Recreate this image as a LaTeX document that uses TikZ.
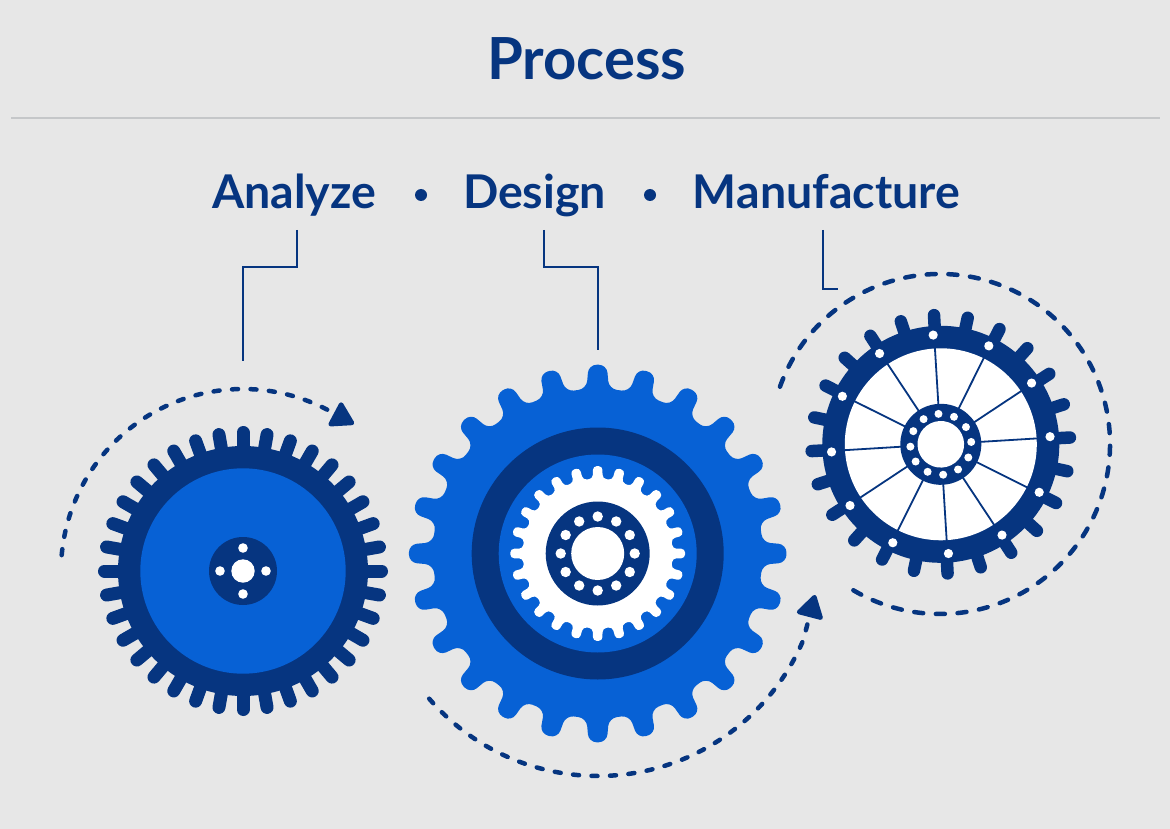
\documentclass[tikz,border=0pt]{standalone}
\usepackage{fontspec}
\setmainfont{Lato}
\usetikzlibrary{arrows.meta}
\definecolor{navy}{HTML}{063580}
\definecolor{wheelblue}{HTML}{0761D5}
\definecolor{paper}{HTML}{E7E7E7}
\definecolor{rulegray}{HTML}{C5C7C9}
\begin{document}
\begin{tikzpicture}[
        x=1pt, y=-1pt,
        title/.style={font=\fontsize{58}{62}\selectfont\bfseries, text=navy, inner sep=0pt, anchor=base},
        word/.style={font=\fontsize{46.5}{50}\selectfont\bfseries, text=navy, inner sep=0pt, anchor=base},
        bullet/.style={circle, fill=navy, inner sep=0pt, minimum size=12pt},
        leader/.style={draw=navy, line width=2pt},
        orbit/.style={draw=navy, line width=4.5pt, line cap=round, dash pattern=on 6pt off 12.5pt},
        longorbit/.style={draw=navy, line width=4.5pt, line cap=round, dash pattern=on 9pt off 12.7pt},
        tip/.style={-{Triangle[length=25pt, width=29pt, round]}}
    ]
      \useasboundingbox (0,0) rectangle (1170,829);
      \fill[paper] (0,0) rectangle (1170,829);

      % Headings
      \node[title] (process) at (586.5,80) {Process};
      \coordinate (ruleL) at (11,118);
      \coordinate (ruleR) at (1160,118);
      \draw[rulegray, line width=1.2pt] (ruleL) -- (ruleR);
      \node[word] (analyze) at (294,209) {Analyze};
      \node[bullet] (dotA) at (421,195) {};
      \node[word] (design) at (534.5,209) {Design};
      \node[bullet] (dotB) at (650,195) {};
      \node[word] (manufacture) at (826.5,209) {Manufacture};

      % Leaders
      \coordinate (analyzeA) at (297,230);
      \coordinate (analyzeB) at (243,267);
      \coordinate (analyzeC) at (243,361);
      \coordinate (designA) at (544,230);
      \coordinate (designB) at (598,267);
      \coordinate (designC) at (598,350);
      \coordinate (makeA) at (823,230);
      \coordinate (makeB) at (838,289);
      \draw[leader] (analyzeA) |- (analyzeB) -- (analyzeC);
      \draw[leader] (designA) |- (designB) -- (designC);
      \draw[leader] (makeA) |- (makeB);

      % Left gear
      \begin{scope}[shift={(243,571)}]
        \foreach \a in {0,10,...,350}
          \draw[navy, line width=13pt, line cap=round] (\a:118) -- (\a:138.5);
        \fill[navy] (0,0) circle[radius=125];
        \fill[wheelblue] (0,0) circle[radius=102.7];
        \fill[navy] (0,0) circle[radius=34];
        \fill[white] (0,0) circle[radius=11.7];
        \foreach \a in {0,90,180,270}
          \fill[white] (\a:23) circle[radius=4.8];
      \end{scope}

      % Middle gear
      \begin{scope}[shift={(597.7,553.5)}]
        \fill[wheelblue, rounded corners=8pt] (-7.5:165)
          \foreach \a in {0,15,...,345} {
            -- ({\a-3.9}:165) -- ({\a-2.75}:189) -- ({\a+2.75}:189) -- ({\a+3.9}:165)
          } -- cycle;
        \fill[navy] (0,0) circle[radius=126];
        \fill[wheelblue] (0,0) circle[radius=99];
        \fill[white, rounded corners=3.8pt] (-7.5:75)
          \foreach \a in {0,15,...,345} {
            -- ({\a-3.7}:75) -- ({\a-3.1}:87.5) -- ({\a+3.1}:87.5) -- ({\a+3.7}:75)
          } -- cycle;
        \fill[navy] (0,0) circle[radius=52];
        \fill[white] (0,0) circle[radius=26.5];
        \foreach \a in {0,30,...,330}
          \fill[white] (\a:37) circle[radius=5.2];
      \end{scope}

      % Right gear
      \begin{scope}[shift={(940.8,444.3)}, rotate=3]
        \foreach \a in {0,15,...,345}
          \draw[navy, line width=12.5pt, line cap=round] (\a:112) -- (\a:129.3);
        \fill[navy] (0,0) circle[radius=118.5];
        \fill[white] (0,0) circle[radius=96];
        \foreach \a in {0,30,...,330} {
          \draw[navy, line width=1.8pt] ({\a-0.5}:30) -- ({\a-0.5}:100);
          \fill[white] ({\a-1}:109.5) circle[radius=4.6];
        }
        \fill[navy] (0,0) circle[radius=40.5];
        \fill[white] (0,0) circle[radius=23.3];
        \foreach \a in {0,30,...,330}
          \fill[white] ({\a-1.4}:30.5) circle[radius=4];
      \end{scope}

      % Dashed orbits
      \draw[orbit, tip] (243,571) ++(185:182) arc[start angle=185, end angle=299.7, radius=182] -- (354,424);
      \draw[orbit, tip] (598,553) ++(139.2:223) arc[start angle=139.2, end angle=23, radius=223] -- (815,595);
      \draw[longorbit] (940,444) ++(199.7:170) arc[start angle=199.7, end angle=481, radius=170];
\end{tikzpicture}
\end{document}
